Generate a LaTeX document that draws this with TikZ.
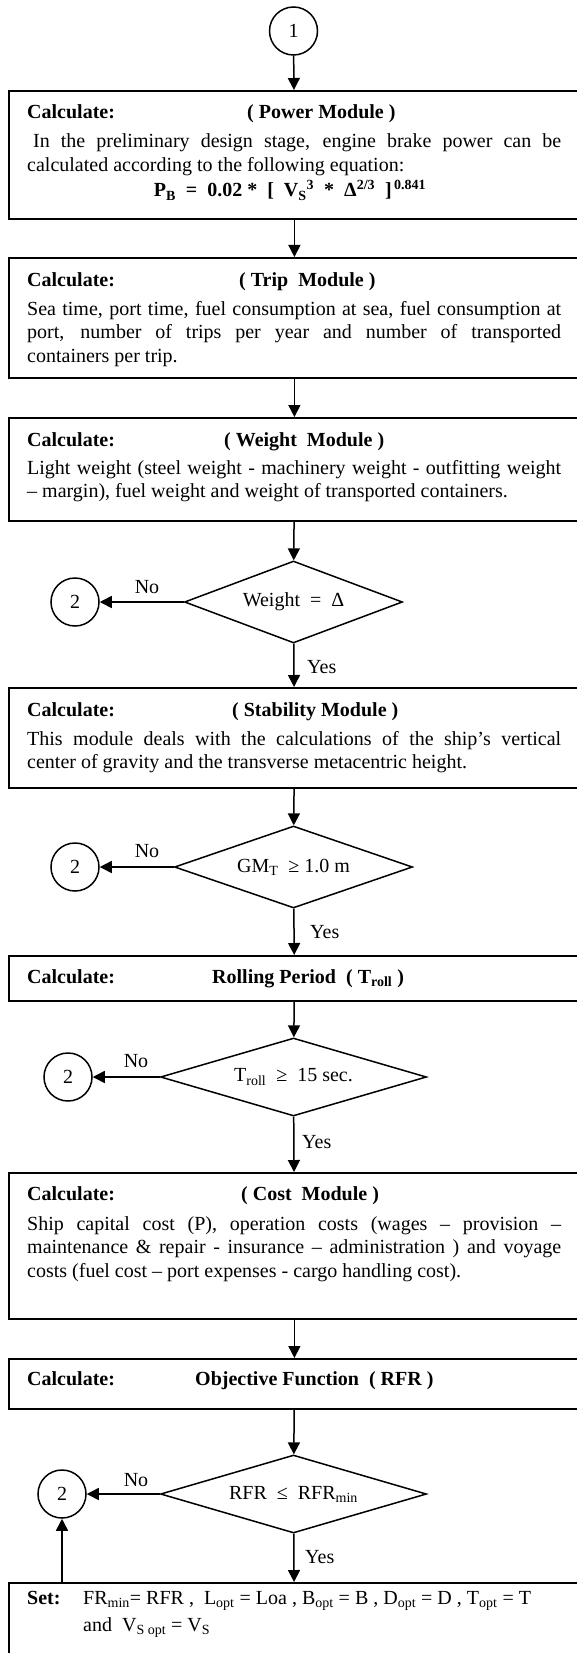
\documentclass[tikz,border=0pt]{standalone}
\usepackage{fontspec}
\setmainfont{Liberation Serif}
\usetikzlibrary{shapes.geometric,arrows.meta}
\newcommand\fs{\fontsize{20}{23.5}\selectfont}
\newcommand\jl[2][534pt]{\hbox to #1{#2}}
\tikzset{
  box/.style={draw, line width=1.8pt, rectangle, inner sep=0pt, minimum width=571pt},
  dia/.style={draw, diamond, line width=1.5pt, inner sep=0pt},
  conn/.style={draw, circle, line width=1.5pt, minimum size=48pt, inner sep=0pt},
  arr/.style={line width=1.5pt, -{Triangle[length=12pt,width=12pt]}},
  txt/.style={inner sep=0pt, anchor=base west},
  ctxt/.style={inner sep=0pt, anchor=base},
  lbl/.style={inner sep=0pt, anchor=west},
}
\begin{document}
\begin{tikzpicture}[x=1pt,y=-1pt,font=\fs]
\useasboundingbox (0,0) rectangle (577,1653);
\clip (0,0) rectangle (577,1653);
\fill[white] (0,0) rectangle (577,1653);

% connector 1
\node[conn] (c1) at (293.5,31) {1};

% Power module
\node[box, minimum height=128pt, anchor=north west] (power) at (8,90) {};
\node[txt] (pc) at (27,119) {\textbf{Calculate:}};
\node[txt] (pt) at (247,119) {\textbf{( Power Module )}};
\node[txt] (p1) at (33,148) {\jl[528pt]{In the preliminary design stage, engine brake power can be}};
\node[txt] (p2) at (27,171.5) {calculated according to the following equation:};
\node[ctxt] (pf) at (290,197) {\bfseries P\textsubscript{B} \ = \ 0.02 * \ [ \ V\textsubscript{S}\textsuperscript{3} \ * \ Δ\textsuperscript{2/3} \ ]\textsuperscript{\,0.841}};

% Trip module
\node[box, minimum height=120pt, anchor=north west] (trip) at (8,257) {};
\node[txt] (tc) at (27,286) {\textbf{Calculate:}};
\node[txt] (tt) at (239,286) {\textbf{( Trip \ Module )}};
\node[txt] (t1) at (27,315) {\jl{Sea time, port time, fuel consumption at sea, fuel consumption at}};
\node[txt] (t2) at (27,338.5) {\jl{port, number of trips per year and number of transported}};
\node[txt] (t3) at (27,362) {containers per trip.};

% Weight module
\node[box, minimum height=103pt, anchor=north west] (weight) at (8,417) {};
\node[txt] (wc) at (27,446) {\textbf{Calculate:}};
\node[txt] (wt) at (224,446) {\textbf{( Weight \ Module )}};
\node[txt] (w1) at (27,474) {\jl{Light weight (steel weight - machinery weight - outfitting weight}};
\node[txt] (w2) at (27,497.5) {– margin), fuel weight and weight of transported containers.};

% Decision 1
\node[dia, aspect=2.66, minimum width=218pt, minimum height=82pt] (d1) at (293.5,602) {Weight \ = \ Δ};
\node[conn] (c2a) at (75,602) {2};
\node[ctxt] (n1) at (147,593) {No};
\node[lbl] (y1) at (307,667) {Yes};

% Stability module
\node[box, minimum height=100pt, anchor=north west] (stab) at (8,687) {};
\node[txt] (sc) at (27,716) {\textbf{Calculate:}};
\node[txt] (st) at (232,716) {\textbf{( Stability Module )}};
\node[txt] (s1) at (27,745) {\jl{This module deals with the calculations of the ship’s vertical}};
\node[txt] (s2) at (27,768.5) {center of gravity and the transverse metacentric height.};

% Decision 2
\node[dia, aspect=2.9, minimum width=238pt, minimum height=82pt] (d2) at (293.5,867) {GM\textsubscript{T} \ ≥ 1.0 m};
\node[conn] (c2b) at (75,867) {2};
\node[ctxt] (n2) at (147,857) {No};
\node[lbl] (y2) at (310,932) {Yes};

% Rolling period
\node[box, minimum height=45pt, anchor=north west] (roll) at (8,955) {};
\node[txt] (rc) at (27,983) {\textbf{Calculate:}};
\node[txt] (rt) at (212,983) {\textbf{Rolling Period \ ( T\textsubscript{roll} )}};

% Decision 3
\node[dia, aspect=3.41, minimum width=266pt, minimum height=78pt] (d3) at (293.5,1077) {T\textsubscript{roll} \ ≥ \ 15 sec.};
\node[conn] (c2c) at (68,1077) {2};
\node[ctxt] (n3) at (136,1067) {No};
\node[lbl] (y3) at (302,1142) {Yes};

% Cost module
\node[box, minimum height=146pt, anchor=north west] (cost) at (8,1172) {};
\node[txt] (cc) at (27,1200) {\textbf{Calculate:}};
\node[txt] (ct) at (241,1200) {\textbf{( Cost \ Module )}};
\node[txt] (k1) at (27,1230) {\jl{Ship capital cost (P), operation costs (wages – provision –}};
\node[txt] (k2) at (27,1253.5) {\jl{maintenance \& repair - insurance – administration ) and voyage}};
\node[txt] (k3) at (27,1277) {costs (fuel cost – port expenses - cargo handling cost).};

% Objective function
\node[box, minimum height=50pt, anchor=north west] (rfr) at (8,1358) {};
\node[txt] (oc) at (27,1385) {\textbf{Calculate:}};
\node[txt] (ot) at (195,1385) {\textbf{Objective Function \ ( RFR )}};

% Decision 4
\node[dia, aspect=3.41, minimum width=266pt, minimum height=78pt] (d4) at (293.5,1494) {RFR \ ≤ \ RFR\textsubscript{min}};
\node[conn] (c2d) at (62,1494) {2};
\node[ctxt] (n4) at (136,1486) {No};
\node[lbl] (y4) at (305,1557) {Yes};

% Set box
\node[box, minimum height=100pt, anchor=north west] (set) at (8,1582) {};
\node[txt] (setl) at (27,1604) {\textbf{Set:}};
\node[txt] (set1) at (83,1604) {FR\textsubscript{min}= RFR , \ L\textsubscript{opt} = Loa , B\textsubscript{opt} = B , D\textsubscript{opt} = D , T\textsubscript{opt} = T};
\node[txt] (set2) at (83,1631) {and \ V\textsubscript{S opt} = V\textsubscript{S}};

% connectors
\draw[arr] (c1) -- (power);
\draw[arr] (power) -- (trip);
\draw[arr] (trip) -- (weight);
\draw[arr] (weight) -- (d1);
\draw[arr] (d1.west) -- (c2a);
\draw[arr] (d1) -- (stab);
\draw[arr] (stab) -- (d2);
\draw[arr] (d2.west) -- (c2b);
\draw[arr] (d2) -- (roll);
\draw[arr] (roll) -- (d3);
\draw[arr] (d3.west) -- (c2c);
\draw[arr] (d3) -- (cost);
\draw[arr] (cost) -- (rfr);
\draw[arr] (rfr) -- (d4);
\draw[arr] (d4.west) -- (c2d);
\draw[arr] (d4) -- (set);
\draw[arr] (set.north -| c2d) -- (c2d);
\end{tikzpicture}
\end{document}
